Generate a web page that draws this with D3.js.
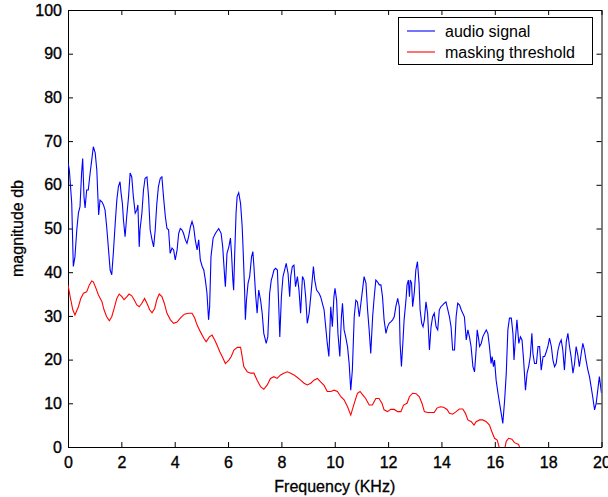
<!DOCTYPE html>
<html>
<head>
<meta charset="utf-8">
<script src="https://cdn.jsdelivr.net/npm/d3@7"></script>
<style>
  html, body { margin: 0; padding: 0; background: #fff; }
  svg { display: block; font-family: "Liberation Sans", Arial, sans-serif; }
</style>
</head>
<body>
<svg id="chart" width="608" height="497"></svg>
<script>
// ---------------- data ----------------
const seriesNames = ["audio signal", "masking threshold"];
const xTicks = [0, 2, 4, 6, 8, 10, 12, 14, 16, 18, 20];
const yTicks = [0, 10, 20, 30, 40, 50, 60, 70, 80, 90, 100];

// audio signal: [frequency KHz, magnitude dB]
const audioSignal = [
[0,65],[0.05,63.4],[0.14,55.8],[0.18,45.8],[0.2,41.3],[0.26,43.5],[0.33,49.7],[0.39,53.5],[0.45,55],[0.51,62.7],[0.55,66],[0.6,57.3],[0.64,54.7],[0.7,58.8],[0.76,58.8],[0.83,62.7],[0.89,65.7],[0.95,68.7],[1.02,67.3],[1.08,63.4],[1.12,57.3],[1.15,53.1],[1.2,56.5],[1.27,56.1],[1.33,55.4],[1.39,54.2],[1.45,50.4],[1.52,45.1],[1.58,40.5],[1.64,39.4],[1.7,44.4],[1.77,51.2],[1.83,56.5],[1.89,59.6],[1.95,60.7],[1.99,58.1],[2.04,55.7],[2.08,51.9],[2.14,48.1],[2.2,52.7],[2.27,57.3],[2.33,62.7],[2.39,61.8],[2.45,57.3],[2.52,53.5],[2.58,54.2],[2.62,55.4],[2.67,45.8],[2.7,49.7],[2.77,53.5],[2.83,58.8],[2.89,61.5],[2.96,61.8],[3.02,57.3],[3.08,49.7],[3.15,47.4],[3.21,45.8],[3.27,49.7],[3.33,55.7],[3.39,59.6],[3.46,61.5],[3.52,61.8],[3.58,57.3],[3.65,52.7],[3.71,50],[3.77,49.7],[3.83,44.3],[3.9,45.5],[3.96,45.1],[4.02,42.8],[4.09,45.1],[4.15,48.9],[4.21,50],[4.27,49.7],[4.33,48.9],[4.4,47.4],[4.46,46.6],[4.52,48.1],[4.59,50.4],[4.65,51.6],[4.71,50.4],[4.77,47.4],[4.84,45.1],[4.9,47.4],[4.96,42.8],[5.03,41.3],[5.09,40.5],[5.15,38.2],[5.21,35.2],[5.27,29.1],[5.31,32.1],[5.36,43.5],[5.44,47.8],[5.53,48.9],[5.65,50],[5.74,48.9],[5.8,45.8],[5.88,38.2],[5.9,36.7],[5.96,44.3],[6.03,45.8],[6.09,47.8],[6.13,44.3],[6.18,38.2],[6.21,35.9],[6.25,44.3],[6.3,53.5],[6.34,57.3],[6.4,58.2],[6.47,55.7],[6.53,50.4],[6.57,44.3],[6.62,35.9],[6.65,29.1],[6.69,33.6],[6.75,37.5],[6.81,39],[6.88,43.5],[6.93,44.7],[6.97,41.3],[7.03,35.2],[7.09,30.6],[7.15,35.9],[7.22,33.6],[7.28,30.6],[7.34,26],[7.43,23.7],[7.49,25.2],[7.56,35.2],[7.62,38.2],[7.66,39],[7.72,40.5],[7.78,40.9],[7.85,40.5],[7.91,30.6],[7.94,25.2],[8.0,34.4],[8.06,39],[8.12,40.5],[8.18,42],[8.25,39.7],[8.31,34.4],[8.35,39],[8.41,41.3],[8.47,41.6],[8.53,36.7],[8.6,39],[8.66,35.9],[8.72,30.6],[8.79,39],[8.85,38.2],[8.91,34.4],[8.97,28.3],[9.04,30.6],[9.1,34.4],[9.2,41.3],[9.25,38.2],[9.32,35.9],[9.41,35.2],[9.47,34.4],
[9.6,31.4],[9.72,23.7],[9.78,20.7],[9.85,32.1],[9.91,27.5],[9.97,34.4],[10.01,36.3],[10.07,33.6],[10.12,26],[10.19,20.7],[10.25,29.8],[10.29,32.9],[10.35,26.8],[10.41,25.2],[10.48,22.9],[10.54,19.1],[10.6,13],[10.66,17.6],[10.73,29.8],[10.79,33.6],[10.85,33.2],[10.92,29.8],[10.98,32.9],[11.04,35.9],[11.1,39],[11.17,37.5],[11.23,31.4],[11.29,26.8],[11.35,21.4],[11.42,29.8],[11.48,34.4],[11.54,38.2],[11.6,37.8],[11.67,37.1],[11.73,37.1],[11.79,34.4],[11.85,29.1],[11.92,26],[11.98,27.5],[12.04,28.3],[12.11,28.7],[12.17,29.1],[12.23,29.8],[12.29,32.1],[12.36,34],[12.42,32.1],[12.45,23.7],[12.5,18.4],[12.56,24.5],[12.6,29.1],[12.67,33.6],[12.71,37.1],[12.76,38.2],[12.8,34.4],[12.83,38.2],[12.88,37.5],[12.92,32.1],[12.98,35.2],[13.04,40.5],[13.1,42.4],[13.16,37.5],[13.2,31.4],[13.26,28.3],[13.31,27.5],[13.36,29.1],[13.42,33.2],[13.48,30.6],[13.55,22.2],[13.61,27.5],[13.67,29.8],[13.73,30.6],[13.8,27.5],[13.86,26.8],[13.92,31.4],[13.98,32.1],[14.05,32.5],[14.11,32.9],[14.17,33.2],[14.24,31.4],[14.3,29.8],[14.36,27.5],[14.42,22.2],[14.49,22.2],[14.55,29.8],[14.61,32.9],[14.68,32.5],[14.74,31.4],
[14.86,29.8],[14.93,24.5],[14.99,26.8],[15.05,25.2],[15.11,23],[15.18,18.4],[15.24,17.2],[15.3,22.2],[15.34,26.8],[15.39,24.9],[15.43,23],[15.49,23.7],[15.55,25.2],[15.61,26],[15.68,26.8],[15.74,26],[15.8,23],[15.86,19.1],[15.9,20.7],[15.95,18.4],[15.99,19.9],[16.05,15.3],[16.12,12.3],[16.18,10],[16.24,7.7],[16.3,5.4],[16.37,10.8],[16.43,16.9],[16.49,26.8],[16.55,29.5],[16.62,29.5],[16.68,26],[16.72,19.9],[16.77,24.5],[16.83,29.1],[16.9,23.7],[16.96,25.2],[17.02,24.5],[17.08,19.9],[17.15,13],[17.21,16.9],[17.27,18.4],[17.33,20.7],[17.39,26],[17.43,21.4],[17.49,19.1],[17.56,19.1],[17.62,23],[17.68,23],[17.74,17.6],[17.81,20.7],[17.87,20.7],[17.93,21.8],[17.99,23],[18.05,24.9],[18.12,23],[18.18,19.9],[18.24,18.4],[18.3,19.1],[18.37,22.2],[18.43,23.7],[18.49,24.5],[18.55,22.2],[18.61,17.6],[18.68,24.1],[18.74,26],[18.8,23],[18.86,20.7],[18.93,16.9],[18.99,19.1],[19.05,23],[19.11,21.1],[19.17,18.4],[19.24,21.4],[19.3,23.7],[19.36,22.2],[19.42,19.9],[19.49,17.6],[19.55,16.1],[19.61,13.8],[19.67,11.5],[19.74,8.5],[19.8,10],[19.86,13],[19.92,16.1],[20,12.3]
];

// masking threshold: [frequency KHz, magnitude dB]
const maskingThreshold = [
[0,37.1],[0.08,34.4],[0.18,31.4],[0.26,30.2],[0.39,32.1],[0.48,34],[0.58,35.2],[0.7,35.5],[0.8,37.1],[0.89,38],[0.95,37.8],[1.05,36.3],[1.14,34.8],[1.27,33.3],[1.35,31.4],[1.45,29.8],[1.55,28.9],[1.64,29.8],[1.73,31.7],[1.83,34],[1.92,35],[2.02,34.4],[2.1,33.7],[2.21,34.4],[2.29,35],[2.39,34.6],[2.48,33.7],[2.58,32.5],[2.67,32.1],[2.77,32.9],[2.87,34],[2.96,32.9],[3.06,31.4],[3.15,30.7],[3.25,31.7],[3.33,33.7],[3.42,35],[3.52,34.4],[3.61,32.9],[3.71,30.6],[3.84,29.1],[3.96,28.3],[4.09,28.6],[4.21,29.5],[4.36,30.4],[4.52,30.6],[4.65,30.6],[4.75,29.5],[4.84,27.9],[4.96,26.4],[5.09,24.9],[5.18,24.1],[5.3,25.2],[5.4,25.6],[5.5,24.5],[5.59,23.3],[5.69,21.8],[5.78,20.7],[5.9,19.1],[6.03,19.9],[6.12,20.7],[6.22,22.2],[6.35,22.8],[6.47,22.8],[6.53,20.7],[6.59,18.4],[6.72,17.2],[6.84,16.9],[6.97,16.9],[7.09,15.3],[7.22,13.8],[7.34,13.2],[7.47,14.2],[7.59,15.7],[7.72,16.1],[7.84,15.7],[7.97,16.5],[8.09,16.9],[8.22,17.2],[8.35,16.9],[8.47,16.5],[8.6,15.9],[8.72,15.3],[8.85,14.6],[8.97,14.2],[9.1,14.6],[9.22,15.3],[9.35,15.7],[9.47,14.9],[9.6,14.1],[9.72,12.7],[9.85,12.7],[9.98,13],[10.1,12.7],[10.23,11.5],[10.35,10.8],[10.48,9.2],[10.6,7.3],[10.73,10],[10.85,12.3],[10.95,12.7],[11.04,12],[11.16,11.1],[11.29,9.6],[11.41,9.6],[11.54,11.1],[11.66,11.1],[11.77,10],[11.85,8.5],[11.98,8.1],[12.1,8.6],[12.23,8.6],[12.36,8.1],[12.48,8.1],[12.58,9.6],[12.71,10],[12.8,11.5],[12.92,12.3],[13.05,12.2],[13.17,11.5],[13.27,10],[13.36,8.1],[13.48,7.9],[13.61,7.9],[13.73,7.9],[13.83,8.9],[13.96,9.2],[14.08,9.1],[14.21,8.6],[14.3,7.7],[14.42,7.5],[14.55,8.1],[14.67,8.7],[14.8,8.7],[14.9,7.7],[14.99,6.2],[15.12,5.8],[15.22,5],[15.3,5.8],[15.43,6.2],[15.55,6.2],[15.68,5.8],[15.8,5],[15.89,3.5],[15.99,2],[16.09,1.6],[16.14,0.5],[16.2,-1],[16.35,-1],[16.43,1.3],[16.52,2],[16.64,1.8],[16.74,1],[16.89,0.6],[16.96,-0.5],[17.05,-1.5]
];

// ---------------- drawing ----------------
const W = 608, H = 497;
const margin = { left: 68, right: 6.5, top: 10, bottom: 50 };
const svg = d3.select("#chart");

const x = d3.scaleLinear().domain([0, 20]).range([margin.left, W - margin.right]);
const y = d3.scaleLinear().domain([0, 100]).range([H - margin.bottom, margin.top]);

svg.append("defs").append("clipPath").attr("id", "plotclip")
  .append("rect")
  .attr("x", x(0)).attr("y", y(100))
  .attr("width", x(20) - x(0)).attr("height", y(0) - y(100));

const fontSize = 16;

// axes (MATLAB style: inward ticks on all four sides)
const gBottom = svg.append("g").attr("transform", `translate(0,${y(0)})`)
  .call(d3.axisBottom(x).tickValues(xTicks).tickFormat(d3.format("d"))
    .tickSizeInner(-5).tickSizeOuter(0).tickPadding(10));
const gTop = svg.append("g").attr("transform", `translate(0,${y(100)})`)
  .call(d3.axisTop(x).tickValues(xTicks).tickFormat("")
    .tickSizeInner(-5).tickSizeOuter(0));
const gLeft = svg.append("g").attr("transform", `translate(${x(0)},0)`)
  .call(d3.axisLeft(y).tickValues(yTicks).tickFormat(d3.format("d"))
    .tickSizeInner(-5).tickSizeOuter(0).tickPadding(6));
const gRight = svg.append("g").attr("transform", `translate(${x(20)},0)`)
  .call(d3.axisRight(y).tickValues(yTicks).tickFormat("")
    .tickSizeInner(-5).tickSizeOuter(0));

[gBottom, gTop, gLeft, gRight].forEach(g => {
  g.select(".domain").attr("stroke", "#000").attr("stroke-width", 1);
  g.selectAll(".tick line").attr("stroke", "#000").attr("stroke-width", 1);
  g.selectAll(".tick text")
    .attr("fill", "#000")
    .attr("font-family", "'Liberation Sans', Arial, sans-serif")
    .attr("font-size", fontSize)
    .attr("stroke", "#000").attr("stroke-width", 0.35);
});

// lines
const line = d3.line().x(d => x(d[0])).y(d => y(d[1]));
const plot = svg.append("g").attr("clip-path", "url(#plotclip)");
plot.append("path").datum(audioSignal)
  .attr("fill", "none").attr("stroke", "#0000ff").attr("stroke-width", 1.1)
  .attr("d", line);
plot.append("path").datum(maskingThreshold)
  .attr("fill", "none").attr("stroke", "#ff0000").attr("stroke-width", 1.1)
  .attr("d", line);

// axis labels
svg.append("text")
  .attr("x", (x(0) + x(20)) / 2).attr("y", 492)
  .attr("text-anchor", "middle")
  .attr("font-size", fontSize).attr("fill", "#000")
  .attr("stroke", "#000").attr("stroke-width", 0.3)
  .text("Frequency (KHz)");
svg.append("text")
  .attr("transform", `translate(23,${(y(0) + y(100)) / 2}) rotate(-90)`)
  .attr("text-anchor", "middle")
  .attr("font-size", fontSize).attr("fill", "#000")
  .attr("stroke", "#000").attr("stroke-width", 0.3)
  .text("magnitude db");

// legend
const colors = ["#0000ff", "#ff0000"];
const lg = svg.append("g");
lg.append("rect")
  .attr("x", 398.5).attr("y", 17.5).attr("width", 194).attr("height", 47)
  .attr("fill", "#fff").attr("stroke", "#000").attr("stroke-width", 1);
seriesNames.forEach((name, i) => {
  const yy = 31 + i * 21;
  lg.append("line").attr("x1", 407).attr("x2", 435).attr("y1", yy).attr("y2", yy)
    .attr("stroke", colors[i]).attr("stroke-width", 1.1);
  lg.append("text").attr("x", 445).attr("y", yy + 5.5)
    .attr("font-size", 16).attr("fill", "#000")
    .text(name);
});
</script>
</body>
</html>
